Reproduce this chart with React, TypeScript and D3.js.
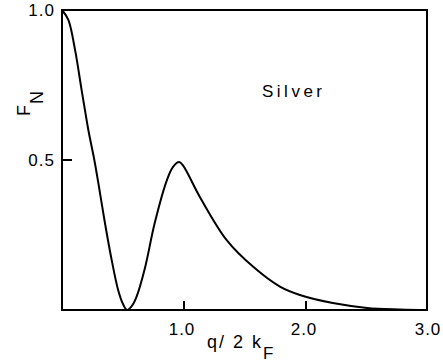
import React from "react";
import * as d3 from "d3";

const qValues = [0, 0.052, 0.107, 0.161, 0.216, 0.265, 0.298, 0.352, 0.407, 0.46, 0.5, 0.533, 0.57, 0.61, 0.68, 0.76, 0.86, 0.91, 0.96, 0.99, 1.13, 1.35, 1.57, 1.79, 1.95, 2.22, 2.5, 2.77, 3.0];
const fnValues = [1.0, 0.967, 0.867, 0.733, 0.6, 0.5, 0.423, 0.29, 0.167, 0.067, 0.02, 0.0, 0.012, 0.043, 0.14, 0.29, 0.433, 0.477, 0.493, 0.483, 0.377, 0.233, 0.143, 0.077, 0.05, 0.023, 0.007, 0.002, 0.0];
const xTicks = [1.0, 2.0, 3.0];
const yTicks = [0.5, 1.0];

export default function App() {
  const W = 443, H = 362;
  const left = 62, right = 427, top = 10, bottom = 310;
  const x = d3.scaleLinear().domain([0, 3]).range([left, right + 1]);
  const y = d3.scaleLinear().domain([0, 1]).range([bottom, top]);
  const pts: [number, number][] = qValues.map((q, i) => [q, fnValues[i]]);
  const line = d3.line<[number, number]>().x(d => x(d[0])).y(d => y(d[1])).curve(d3.curveCatmullRom.alpha(0.5));
  const font = "'Liberation Sans', Arial, sans-serif";
  return (
    <svg width={W} height={H} style={{ position: "absolute", left: 0, top: 0, background: "#fff" }}>
      <rect x={left} y={top} width={right - left} height={bottom - top} fill="none" stroke="#000" strokeWidth={2} />
      {xTicks.filter(t => t < 3).map(t => (
        <line key={t} x1={x(t)} x2={x(t)} y1={bottom} y2={bottom - 9} stroke="#000" strokeWidth={2} />
      ))}
      {yTicks.filter(t => t < 1).map(t => (
        <line key={t} x1={left} x2={left + 10} y1={y(t)} y2={y(t)} stroke="#000" strokeWidth={2} />
      ))}
      {xTicks.map(t => (
        <text key={t} x={t === 3 ? 428 : x(t) - 2} y={335} textAnchor="middle" fontFamily={font} fontSize={17} fill="#000" letterSpacing={1}>{t.toFixed(1)}</text>
      ))}
      {yTicks.map(t => (
        <text key={t} x={55} y={y(t) + 6} textAnchor="end" fontFamily={font} fontSize={17} fill="#000" letterSpacing={1}>{t.toFixed(1)}</text>
      ))}
      <text x={207} y={348} textAnchor="start" fontFamily={font} fontSize={18} fill="#000" letterSpacing={2}>
        q/ 2 k<tspan dy={11} dx={0} fontSize={17}>F</tspan>
      </text>
      <g transform="translate(30,116) rotate(-90)">
        <text x={0} y={0} textAnchor="start" fontFamily={font} fontSize={18} fill="#000">
          F<tspan dy={13} dx={1}>N</tspan>
        </text>
      </g>
      <text x={262} y={97} fontFamily={font} fontSize={17} fill="#000" letterSpacing={3.5}>Silver</text>
      <path d={line(pts) || ""} fill="none" stroke="#000" strokeWidth={2} />
    </svg>
  );
}
